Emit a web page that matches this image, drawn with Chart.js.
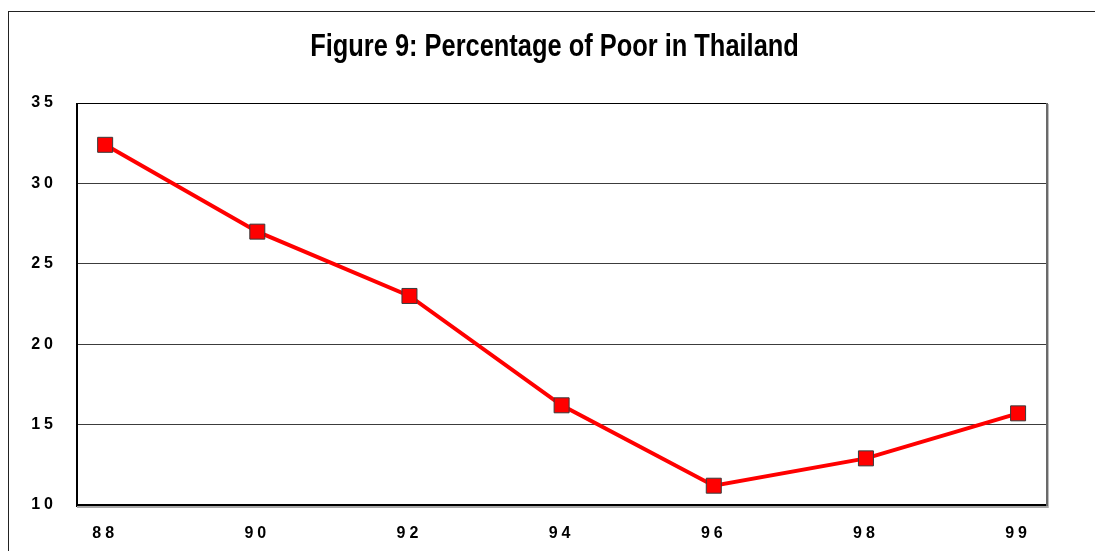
<!DOCTYPE html>
<html>
<head>
<meta charset="utf-8">
<script src="https://cdn.jsdelivr.net/npm/chart.js@4/dist/chart.umd.min.js"></script>
<style>
    html, body { margin: 0; padding: 0; background: #fff; }
    #wrap { width: 1095px; height: 551px; position: relative; }
</style>
</head>
<body>
<div id="wrap"><canvas id="chartPobreza"></canvas></div>
<script>
// Dados
const years = ['88', '90', '92', '94', '96', '98', '99'];
const poorPct = [32.4, 27.0, 23.0, 16.2, 11.2, 12.9, 15.7];
const yTicks = [10, 15, 20, 25, 30, 35];

const FONT = "'Liberation Sans', Arial, sans-serif";

/**
 * Moldura externa e caixa da área do gráfico
 */
const frames = {
    id: 'frames',
    beforeDraw(chart) {
        const ctx = chart.ctx;
        ctx.save();
        ctx.fillStyle = '#fff';
        ctx.fillRect(0, 0, chart.width, chart.height);
        ctx.strokeStyle = '#222';
        ctx.lineWidth = 1;
        ctx.strokeRect(8.5, 11.5, chart.width + 20, chart.height + 20);
        ctx.restore();
    },
    beforeDatasetsDraw(chart) {
        const { left, top, right, bottom } = chart.chartArea;
        const ctx = chart.ctx;
        ctx.save();
        // topo e esquerda
        ctx.fillStyle = '#000';
        ctx.fillRect(left - 1, top, right - left + 1, 1);
        ctx.fillRect(left - 1, top, 2, bottom - top + 2);
        // base dupla
        ctx.fillRect(left - 1, bottom - 1, right - left + 2, 2);
        ctx.fillStyle = '#a8a8a8';
        ctx.fillRect(left, bottom + 1, right - left + 2, 2);
        // direita com sombra
        ctx.fillStyle = '#6a6a6a';
        ctx.fillRect(right - 1, top, 2, bottom - top + 1);
        ctx.fillStyle = '#bdbdbd';
        ctx.fillRect(right + 1, top + 1, 1, bottom - top + 2);
        ctx.restore();
    }
};

/**
 * Espaçamento nos rótulos dos eixos + título comprimido e centrado na área do gráfico
 */
const styling = {
    id: 'styling',
    afterUpdate(chart) {
        Object.values(chart.scales).forEach(scale => {
            if (scale._spaced) return;
            const orig = scale.drawLabels;
            scale.drawLabels = function (area) {
                this.ctx.save();
                this.ctx.letterSpacing = '4px';
                orig.call(this, area);
                this.ctx.restore();
            };
            scale._spaced = true;
        });
    },
    afterLayout(chart) {
        const t = chart.titleBlock;
        if (!t) return;
        t.left = 62;
        if (t._squeezed) return;
        const orig = t.draw;
        t.draw = function () {
            const c = this.ctx;
            const cx = (this.left + this.right) / 2;
            c.save();
            c.translate(cx, 0);
            c.scale(0.82, 1);
            c.translate(-cx, 0);
            orig.call(this);
            c.restore();
        };
        t._squeezed = true;
    }
};

const ctx = document.getElementById('chartPobreza');

new Chart(ctx, {
    type: 'line',
    data: {
        datasets: [{
            label: 'Percentage of Poor',
            data: poorPct.map((v, i) => ({ x: i, y: v })),
            borderColor: '#ff0000',
            borderWidth: 4,
            backgroundColor: '#ff0000',
            pointStyle: 'rect',
            pointRadius: 10.6,
            pointBackgroundColor: '#ff0000',
            pointBorderColor: '#3a3a3a',
            pointBorderWidth: 1,
            tension: 0,
            fill: false
        }]
    },
    options: {
        responsive: true,
        maintainAspectRatio: false,
        animation: false,
        layout: {
            padding: { left: 0, right: 48, top: 0, bottom: 0 }
        },
        scales: {
            x: {
                type: 'linear',
                min: -0.185,
                max: 6.19,
                grid: { display: false },
                border: { display: false },
                afterFit: scale => { scale.height = 46; },
                afterBuildTicks: scale => { scale.ticks = years.map((_, i) => ({ value: i })); },
                ticks: {
                    autoSkip: false,
                    maxRotation: 0,
                    padding: 11,
                    color: '#000',
                    font: { family: FONT, size: 16, weight: 'bold' },
                    callback: value => years[value]
                }
            },
            y: {
                min: yTicks[0],
                max: yTicks[yTicks.length - 1],
                border: { display: false },
                afterFit: scale => { scale.width = 77; },
                afterBuildTicks: scale => { scale.ticks = yTicks.map(v => ({ value: v })); },
                grid: {
                    drawTicks: false,
                    lineWidth: 1,
                    color: c => (c.tick && (c.tick.value === 10 || c.tick.value === 35)) ? 'rgba(0,0,0,0)' : '#3c3c3c'
                },
                ticks: {
                    padding: 20,
                    color: '#000',
                    font: { family: FONT, size: 16, weight: 'bold' }
                }
            }
        },
        plugins: {
            legend: { display: false },
            tooltip: { enabled: false },
            title: {
                display: true,
                text: 'Figure 9: Percentage of Poor in Thailand',
                color: '#000',
                padding: { top: 28.5, bottom: 37.3 },
                font: { family: FONT, size: 31, weight: 'bold' }
            }
        }
    },
    plugins: [frames, styling]
});
</script>
</body>
</html>
